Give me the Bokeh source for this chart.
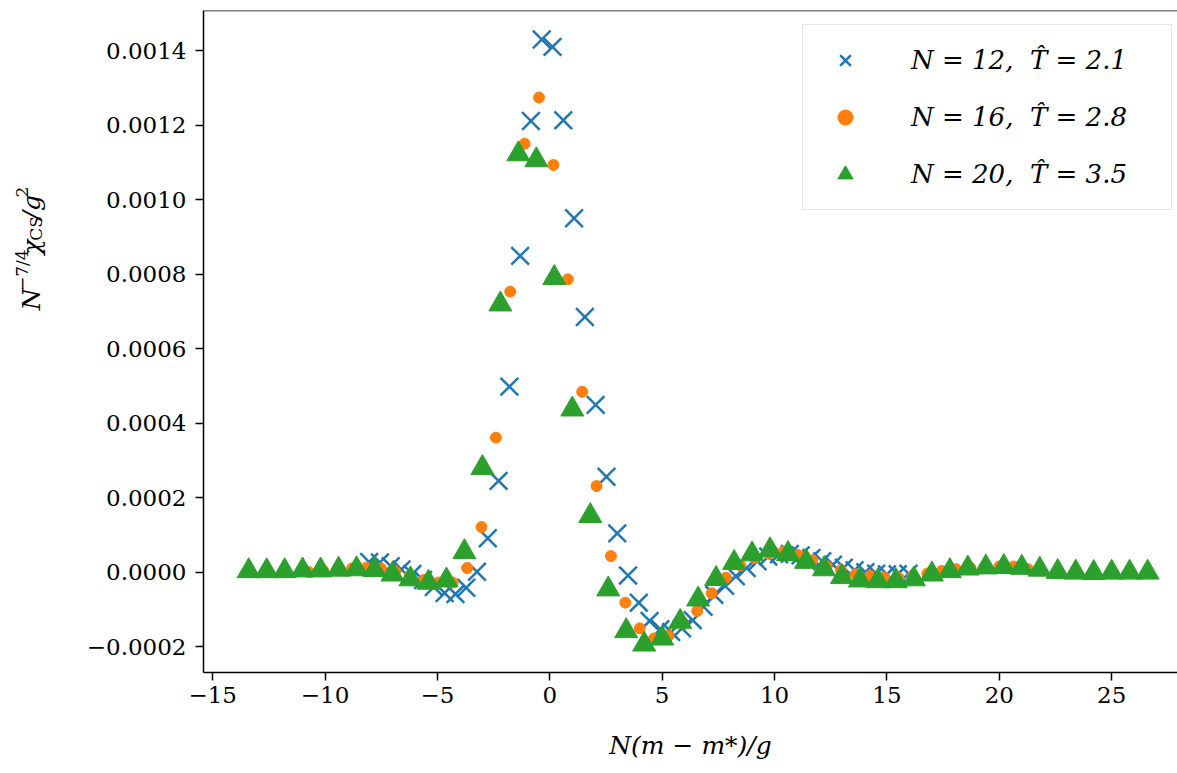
import math
from bokeh.plotting import figure
from bokeh.layouts import row
from bokeh.models import (Range1d, FixedTicker, CustomJSTickFormatter,
                          Legend, LegendItem, Span)
from bokeh.core.properties import value
from bokeh.embed import file_html
from bokeh.resources import INLINE

# ---------------- data ----------------
x_n12 = [-8.04, -7.56, -7.08, -6.60, -6.12, -5.64, -5.16, -4.68, -4.20, -3.72,
         -3.24, -2.76, -2.28, -1.80, -1.32, -0.84, -0.36, 0.12, 0.60, 1.08,
         1.56, 2.04, 2.52, 3.00, 3.48, 3.96, 4.44, 4.92, 5.40, 5.88,
         6.36, 6.84, 7.32, 7.80, 8.28, 8.76, 9.24, 9.72, 10.20, 10.68,
         11.16, 11.64, 12.12, 12.60, 13.08, 13.56, 14.04, 14.52, 15.00, 15.48,
         15.96]
y_n12 = [0.000028, 0.000027, 0.000017, 0.000008, -0.000004, -0.000020, -0.000039, -0.000055, -0.000058, -0.000041,
         0.000002, 0.000092, 0.000246, 0.000499, 0.000850, 0.001212, 0.001431, 0.001411, 0.001214, 0.000951,
         0.000686, 0.000450, 0.000257, 0.000105, -0.000008, -0.000081, -0.000130, -0.000152, -0.000160, -0.000150,
         -0.000128, -0.000092, -0.000060, -0.000036, -0.000010, 0.000012, 0.000030, 0.000043, 0.000049, 0.000050,
         0.000046, 0.000039, 0.000030, 0.000021, 0.000013, 0.000006, 0.000001, -0.000003, -0.000005, -0.000005,
         -0.000003]

x_n16 = [-10.72, -10.08, -9.44, -8.80, -8.16, -7.52, -6.88, -6.24, -5.60, -4.96,
         -4.32, -3.68, -3.04, -2.40, -1.76, -1.12, -0.48, 0.16, 0.80, 1.44,
         2.08, 2.72, 3.36, 4.00, 4.64, 5.28, 5.92, 6.56, 7.20, 7.84,
         8.48, 9.12, 9.76, 10.40, 11.04, 11.68, 12.32, 12.96, 13.60, 14.24,
         14.88, 15.52, 16.16, 16.80, 17.44, 18.08, 18.72, 19.36, 20.00, 20.64,
         21.28]
y_n16 = [0.000001, 0.000005, 0.000008, 0.000011, 0.000013, 0.000011, 0.000003, -0.000009, -0.000020, -0.000027,
         -0.000027, 0.000012, 0.000122, 0.000362, 0.000754, 0.001151, 0.001275, 0.001094, 0.000787, 0.000485,
         0.000232, 0.000044, -0.000081, -0.000150, -0.000177, -0.000170, -0.000135, -0.000103, -0.000056, -0.000014,
         0.000019, 0.000039, 0.000050, 0.000056, 0.000047, 0.000033, 0.000017, 0.000006, -0.000005, -0.000009,
         -0.000013, -0.000014, -0.000009, -0.000003, 0.000004, 0.000009, 0.000012, 0.000015, 0.000016, 0.000016,
         0.000009]

x_n20 = [-13.4, -12.6, -11.8, -11.0, -10.2, -9.4, -8.6, -7.8, -7.0, -6.2,
         -5.4, -4.6, -3.8, -3.0, -2.2, -1.4, -0.6, 0.2, 1.0, 1.8,
         2.6, 3.4, 4.2, 5.0, 5.8, 6.6, 7.4, 8.2, 9.0, 9.8,
         10.6, 11.4, 12.2, 13.0, 13.8, 14.6, 15.4, 16.2, 17.0, 17.8,
         18.6, 19.4, 20.2, 21.0, 21.8, 22.6, 23.4, 24.2, 25.0, 25.8,
         26.6]
y_n20 = [0.000004, 0.000004, 0.000004, 0.000006, 0.000006, 0.000008, 0.000009, 0.000007, -0.000005, -0.000018,
         -0.000027, -0.000021, 0.000055, 0.000281, 0.000720, 0.001123, 0.001107, 0.000791, 0.000438, 0.000152,
         -0.000045, -0.000157, -0.000193, -0.000177, -0.000132, -0.000072, -0.000017, 0.000026, 0.000049, 0.000060,
         0.000050, 0.000029, 0.000009, -0.000012, -0.000021, -0.000023, -0.000023, -0.000018, -0.000005, 0.000004,
         0.000011, 0.000014, 0.000015, 0.000013, 0.000008, 0.000002, 0.000000, -0.000001, 0.000000, 0.000000,
         0.000000]

series_labels = ["N = 12,  T\u0302 = 2.1", "N = 16,  T\u0302 = 2.8", "N = 20,  T\u0302 = 3.5"]
x_ticks = [-15, -10, -5, 0, 5, 10, 15, 20, 25]
y_ticks = [-0.0002, 0.0, 0.0002, 0.0004, 0.0006, 0.0008, 0.0010, 0.0012, 0.0014]

# ---------------- layout constants ----------------
FONT = "DejaVu Serif"
H = 773
LW = 60                     # width of the strip that holds the y-axis title
W = 1177 - LW
X0, X1 = -15.41, 27.93
Y0, Y1 = -0.0002685, 0.0015087

# ---------------- y-axis title strip ----------------
lab = figure(width=LW, height=H, output_backend="svg", toolbar_location=None,
             x_range=Range1d(0, LW), y_range=Range1d(0, H),
             x_axis_type=None, y_axis_type=None, min_border=0)
lab.outline_line_color = None
base_x, base_y = 31, H - 350
pieces = [
    ("N", 0.0, 0, "25px", "italic"),
    ("\u22127/4", 22.5, -10, "17px", "normal"),
    ("\u03c7", 65.0, 0, "25px", "italic"),
    ("CS", 81.0, 4, "17px", "normal"),
    ("/g", 106.0, 0, "25px", "italic"),
    ("2", 131.5, -10, "17px", "normal"),
]
for txt, dy, dx, fs, st in pieces:
    lab.text(x=[base_x + dx], y=[base_y + dy], text=[txt], angle=math.pi / 2,
             text_align="left", text_baseline="alphabetic",
             text_font=value(FONT), text_font_size=value(fs),
             text_font_style=value(st), text_color="black")

# ---------------- main figure ----------------
p = figure(width=W, height=H, output_backend="svg", toolbar_location=None,
           x_range=Range1d(X0, X1), y_range=Range1d(Y0, Y1),
           min_border_left=203 - LW, min_border_right=0, min_border_top=10,
           min_border_bottom=101)
p.grid.visible = False
p.outline_line_color = None
p.background_fill_color = "white"

for ax in (p.xaxis[0], p.yaxis[0]):
    ax.axis_line_color = "black"
    ax.axis_line_width = 1.5
    ax.major_tick_line_color = "black"
    ax.major_tick_line_width = 1.5
    ax.major_tick_in = 0
    ax.major_tick_out = 8
    ax.minor_tick_line_color = None
    ax.major_label_text_font = FONT
    ax.major_label_text_font_size = "23px"
    ax.major_label_text_color = "black"

p.xaxis.ticker = FixedTicker(ticks=x_ticks)
p.yaxis.ticker = FixedTicker(ticks=y_ticks)
p.xaxis.formatter = CustomJSTickFormatter(
    code="return (tick < 0 ? '\u2212' : '') + Math.abs(tick).toFixed(0);")
p.yaxis.formatter = CustomJSTickFormatter(
    code="return (tick < -1e-12 ? '\u2212' : '') + Math.abs(tick).toFixed(4);")
p.xaxis.major_label_standoff = 6
p.yaxis.major_label_standoff = 9

p.xaxis.axis_label = "N(m \u2212 m*)/g"
p.xaxis.axis_label_text_font = FONT
p.xaxis.axis_label_text_font_style = "italic"
p.xaxis.axis_label_text_font_size = "25px"
p.xaxis.axis_label_text_color = "black"
p.xaxis.axis_label_standoff = 25

# top spine
p.add_layout(Span(location=Y1, dimension="width", line_color="black", line_width=1.5))

# ---------------- data glyphs ----------------
r12 = p.scatter(x_n12, y_n12, marker="x", size=25, line_width=2.5, line_color="#1f77b4")
r16 = p.scatter(x_n16, y_n16, marker="circle", size=11, fill_color="#ff7f0e", line_color="#ff7f0e")
r20 = p.scatter(x_n20, y_n20, marker="triangle", size=23, fill_color="#2ca02c", line_color="#2ca02c")

legend = Legend(items=[LegendItem(label=series_labels[0], renderers=[r12]),
                       LegendItem(label=series_labels[1], renderers=[r16]),
                       LegendItem(label=series_labels[2], renderers=[r20])],
                location=(599, 462))
legend.label_text_font = FONT
legend.label_text_font_style = "italic"
legend.label_text_font_size = "26px"
legend.label_text_color = "black"
legend.glyph_width = 52
legend.glyph_height = 38
legend.label_height = 38
legend.label_width = 244
legend.label_standoff = 40
legend.spacing = 19
legend.padding = 16
legend.margin = 0
legend.border_line_color = "#cccccc"
legend.border_line_width = 1.5
legend.background_fill_alpha = 0.8
p.add_layout(legend)

layout = row(lab, p, spacing=0)
open("out.html", "w").write(file_html(layout, INLINE))
